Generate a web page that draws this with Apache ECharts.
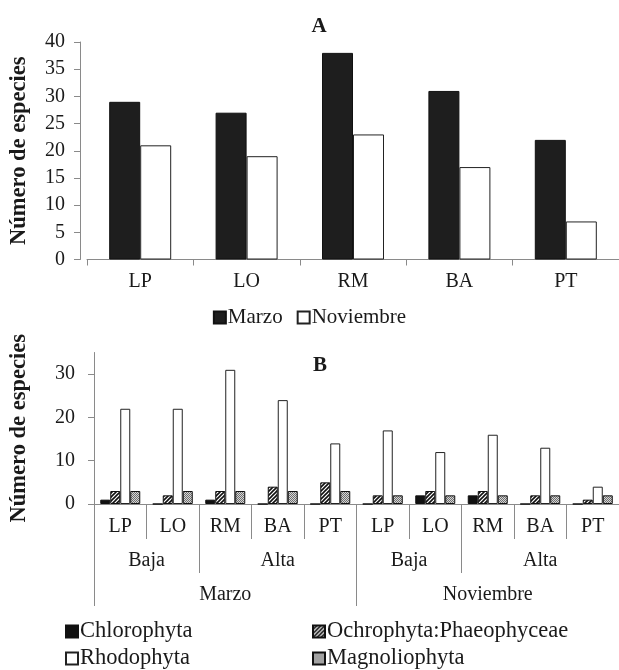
<!DOCTYPE html>
<html>
<head>
<meta charset="utf-8">
<script src="https://cdn.jsdelivr.net/npm/echarts@6/dist/echarts.min.js"></script>
<style>
  html, body { margin: 0; padding: 0; background: #fff; }
  #chart { width: 619px; height: 670px; }
</style>
</head>
<body>
<div id="chart"></div>
<script>
// Panel A: species count per site and month
const sitesA = ['LP', 'LO', 'RM', 'BA', 'PT'];
const marzoA = [29, 27, 38, 31, 22];
const noviembreA = [21, 19, 23, 17, 7];
const yTicksA = [0, 5, 10, 15, 20, 25, 30, 35, 40];

// Panel B: species per phylum, site, tide level and month
const sitesB = ['LP', 'LO', 'RM', 'BA', 'PT', 'LP', 'LO', 'RM', 'BA', 'PT'];
const tideLabels = ['Baja', 'Alta', 'Baja', 'Alta'];
const tideCenters = [1, 3.5, 6, 8.5];
const tideBounds = [0, 2, 5, 7];
const monthLabels = ['Marzo', 'Noviembre'];
const monthCenters = [2.5, 7.5];
const monthBounds = [0, 5];
const chlorophyta = [1, 0, 1, 0, 0, 0, 2, 2, 0, 0];
const ochrophyta = [3, 2, 3, 4, 5, 2, 3, 3, 2, 1];
const rhodophyta = [22, 22, 31, 24, 14, 17, 12, 16, 13, 4];
const magnoliophyta = [3, 3, 3, 3, 3, 2, 2, 2, 2, 2];
const yTicksB = [0, 10, 20, 30];

const FONT = '"Liberation Serif", "Times New Roman", serif';
const AXIS_GRAY = '#8a8a8a';
const TEXT = '#1a1a1a';

// Fill patterns for the hatched and stippled bars
function hatchPattern() {
  const c = document.createElement('canvas');
  c.width = 4; c.height = 4;
  const g = c.getContext('2d');
  g.fillStyle = '#fff'; g.fillRect(0, 0, 4, 4);
  g.strokeStyle = '#111'; g.lineWidth = 1.6;
  g.beginPath();
  g.moveTo(-1, 5); g.lineTo(5, -1);
  g.moveTo(-3, 3); g.lineTo(3, -3);
  g.moveTo(1, 7); g.lineTo(7, 1);
  g.stroke();
  return c;
}
function stipplePattern() {
  const c = document.createElement('canvas');
  c.width = 2; c.height = 2;
  const g = c.getContext('2d');
  g.fillStyle = '#d6d6d6'; g.fillRect(0, 0, 2, 2);
  g.fillStyle = '#6e6e6e'; g.fillRect(0, 0, 1, 1); g.fillRect(1, 1, 1, 1);
  return c;
}

const chart = echarts.init(document.getElementById('chart'), null, { renderer: 'canvas' });

const baseY0A = 259.5, topA = 42;
const topB = 352.5, baseY0B = 504;

const labelStyle = { fontFamily: FONT, fontSize: 20, color: TEXT };
const legendTextA = { fontFamily: FONT, fontSize: 21, color: TEXT, padding: [0, 0, 0, -3] };
const legendTextB = { fontFamily: FONT, fontSize: 22.5, color: TEXT, padding: [0, 0, 0, -3] };
const nameStyle = { fontFamily: FONT, fontWeight: 'bold', fontSize: 22.5, color: TEXT };

function legendAt(name, left, top) {
  return { data: [name], left: left, top: top, icon: 'rect',
    itemWidth: 12, itemHeight: 12, textStyle: legendTextB };
}

const option = {
  backgroundColor: '#fff',
  animation: false,
  title: [
    { text: 'A', left: 314, top: 11, textAlign: 'center',
      textStyle: { fontFamily: FONT, fontWeight: 'bold', fontSize: 21, color: TEXT } },
    { text: 'B', left: 315, top: 350, textAlign: 'center',
      textStyle: { fontFamily: FONT, fontWeight: 'bold', fontSize: 21, color: TEXT } }
  ],
  legend: [
    { data: ['Marzo', 'Noviembre'], left: 'center', top: 302, orient: 'horizontal',
      icon: 'rect', itemWidth: 12, itemHeight: 12, itemGap: 14, textStyle: legendTextA },
    legendAt('Chlorophyta', 60, 615),
    legendAt('Rhodophyta', 60, 642),
    legendAt('Ochrophyta:Phaeophyceae', 307, 615),
    legendAt('Magnoliophyta', 307, 642)
  ],
  grid: [
    { left: 79, width: 546, top: topA, height: baseY0A - topA, containLabel: false },
    { left: 86, width: 538, top: topB, height: baseY0B - topB, containLabel: false }
  ],
  xAxis: [
    { type: 'category', gridIndex: 0, data: sitesA,
      axisLine: { lineStyle: { color: AXIS_GRAY, width: 1 } },
      axisTick: { show: true, interval: 0, length: 6, lineStyle: { color: AXIS_GRAY } },
      axisLabel: Object.assign({ margin: 12, interval: 0 }, labelStyle) },
    // site row
    { type: 'category', gridIndex: 1, data: sitesB,
      axisLine: { lineStyle: { color: AXIS_GRAY, width: 1 } },
      axisTick: { show: true, interval: 0, length: 35, lineStyle: { color: AXIS_GRAY } },
      axisLabel: Object.assign({ margin: 13, interval: 0 }, labelStyle) },
    // tide row
    { type: 'value', gridIndex: 1, min: 0, max: 10, position: 'bottom', offset: 35,
      axisLine: { show: false }, splitLine: { show: false },
      axisTick: { show: true, customValues: tideBounds, length: 34, lineStyle: { color: AXIS_GRAY } },
      axisLabel: Object.assign({ margin: 12, customValues: tideCenters,
        formatter: v => tideLabels[tideCenters.indexOf(v)] }, labelStyle) },
    // month row
    { type: 'value', gridIndex: 1, min: 0, max: 10, position: 'bottom', offset: 69,
      axisLine: { show: false }, splitLine: { show: false },
      axisTick: { show: true, customValues: monthBounds, length: 33, lineStyle: { color: AXIS_GRAY } },
      axisLabel: Object.assign({ margin: 12, customValues: monthCenters,
        formatter: v => monthLabels[monthCenters.indexOf(v)] }, labelStyle) }
  ],
  yAxis: [
    // value axis of panel A, drawn slightly left of the first category
    { type: 'value', gridIndex: 0, min: 0, max: 40, interval: 5, offset: 7,
      name: 'Número de especies', nameLocation: 'middle', nameGap: 49,
      nameTextStyle: nameStyle,
      axisLine: { show: true, lineStyle: { color: AXIS_GRAY, width: 1 } },
      axisTick: { show: true, length: 6, lineStyle: { color: AXIS_GRAY } },
      splitLine: { show: false },
      axisLabel: Object.assign({ margin: 15, customValues: yTicksA }, labelStyle) },
    { type: 'value', gridIndex: 1, min: 0, max: 35,
      name: 'Número de especies', nameLocation: 'middle', nameGap: 63,
      nameTextStyle: nameStyle,
      axisLine: { show: true, lineStyle: { color: AXIS_GRAY, width: 1 } },
      axisTick: { show: true, length: 6, customValues: yTicksB, lineStyle: { color: AXIS_GRAY } },
      splitLine: { show: false },
      axisLabel: Object.assign({ margin: 19, customValues: yTicksB }, labelStyle) },
    // joins the panel A baseline to its value axis
    { type: 'value', gridIndex: 0, min: 0, max: 40, offset: 0,
      axisLine: { show: false }, axisLabel: { show: false }, splitLine: { show: false },
      axisTick: { show: true, length: 7, customValues: [0], lineStyle: { color: AXIS_GRAY } } }
  ],
  series: [
    { name: 'Marzo', type: 'bar', xAxisIndex: 0, yAxisIndex: 0, data: marzoA,
      barWidth: 31, barGap: '0%',
      itemStyle: { color: '#1e1e1e', borderColor: '#111', borderWidth: 1 } },
    { name: 'Noviembre', type: 'bar', xAxisIndex: 0, yAxisIndex: 0, data: noviembreA,
      barWidth: 31, barGap: '0%',
      itemStyle: { color: '#fff', borderColor: '#222', borderWidth: 1 } },
    { name: 'Chlorophyta', type: 'bar', xAxisIndex: 1, yAxisIndex: 1, data: chlorophyta,
      barWidth: 10, barGap: '0%',
      itemStyle: { color: '#111', borderColor: '#111', borderWidth: 1 } },
    { name: 'Ochrophyta:Phaeophyceae', type: 'bar', xAxisIndex: 1, yAxisIndex: 1, data: ochrophyta,
      barWidth: 10, barGap: '0%',
      itemStyle: { color: { image: hatchPattern(), repeat: 'repeat' }, borderColor: '#111', borderWidth: 1 } },
    { name: 'Rhodophyta', type: 'bar', xAxisIndex: 1, yAxisIndex: 1, data: rhodophyta,
      barWidth: 10, barGap: '0%',
      itemStyle: { color: '#fff', borderColor: '#222', borderWidth: 1 } },
    { name: 'Magnoliophyta', type: 'bar', xAxisIndex: 1, yAxisIndex: 1, data: magnoliophyta,
      barWidth: 10, barGap: '0%',
      itemStyle: { color: { image: stipplePattern(), repeat: 'repeat' }, borderColor: '#111', borderWidth: 1 } }
  ]
};

chart.setOption(option);
</script>
</body>
</html>
